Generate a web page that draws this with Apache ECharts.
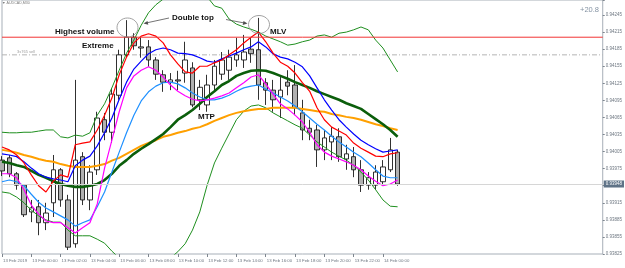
<!DOCTYPE html>
<html><head><meta charset="utf-8">
<script src="https://cdn.jsdelivr.net/npm/echarts@6/dist/echarts.min.js"></script>
<style>html,body{margin:0;padding:0;background:#fff}#c{width:625px;height:268px}</style>
</head><body><div id="c"></div>
<script>
// AUDCAD M30, bars from 12 Feb 22:00 to 14 Feb 01:00 (30 min each), then empty shift area
const tickIndex = [0,4,8,12,16,20,24,28,32,36,40,44,48,52];
const tickLabels = ['13 Feb 2019','13 Feb 00:00','13 Feb 02:00','13 Feb 04:00','13 Feb 06:00','13 Feb 08:00','13 Feb 10:00','13 Feb 12:00','13 Feb 14:00','13 Feb 16:00','13 Feb 18:00','13 Feb 20:00','13 Feb 22:00','14 Feb 00:00'];
const slotCount = 83;

const opens  = [0.93990,0.93994,0.93966,0.93946,0.93899,0.93908,0.93880,0.93915,0.93973,0.93920,0.93843,0.93996,0.93920,0.93973,0.94061,0.94039,0.94104,0.94175,0.94206,0.94187,0.94189,0.94166,0.94140,0.94127,0.94131,0.94143,0.94152,0.94096,0.94087,0.94122,0.94141,0.94148,0.94166,0.94166,0.94185,0.94184,0.94126,0.94113,0.94101,0.94127,0.94122,0.94073,0.94046,0.94043,0.94008,0.94022,0.94031,0.93992,0.93996,0.93973,0.93946,0.93946,0.93952,0.93973,0.94004];
const closes = [0.93971,0.93966,0.93946,0.93894,0.93906,0.93880,0.93897,0.93973,0.93920,0.93837,0.93990,0.93920,0.93969,0.94064,0.94039,0.94106,0.94175,0.94206,0.94191,0.94189,0.94166,0.94141,0.94127,0.94131,0.94129,0.94166,0.94087,0.94118,0.94122,0.94155,0.94166,0.94171,0.94175,0.94180,0.94177,0.94122,0.94113,0.94096,0.94113,0.94120,0.94082,0.94043,0.94039,0.94008,0.94029,0.94032,0.93996,0.94001,0.93973,0.93946,0.93959,0.93969,0.93978,0.94008,0.93948];
const highs  = [0.93997,0.93999,0.93969,0.93948,0.93920,0.93920,0.93915,0.93999,0.93976,0.93929,0.94131,0.94004,0.93981,0.94075,0.94073,0.94117,0.94184,0.94236,0.94213,0.94206,0.94201,0.94171,0.94148,0.94143,0.94147,0.94198,0.94162,0.94131,0.94140,0.94166,0.94180,0.94184,0.94205,0.94210,0.94205,0.94240,0.94134,0.94131,0.94136,0.94148,0.94157,0.94096,0.94061,0.94052,0.94043,0.94048,0.94046,0.94017,0.94013,0.93990,0.93969,0.93981,0.93990,0.94029,0.94008];
const lows   = [0.93962,0.93960,0.93938,0.93890,0.93881,0.93858,0.93867,0.93890,0.93908,0.93832,0.93836,0.93911,0.93902,0.93964,0.94025,0.94020,0.94096,0.94171,0.94184,0.94170,0.94154,0.94131,0.94110,0.94113,0.94113,0.94126,0.94083,0.94078,0.94075,0.94113,0.94131,0.94131,0.94154,0.94152,0.94161,0.94096,0.94087,0.94075,0.94064,0.94104,0.94069,0.94025,0.94025,0.93978,0.93990,0.93990,0.93987,0.93973,0.93960,0.93934,0.93938,0.93938,0.93945,0.93969,0.93945];

const redLine      = [0.94013,0.94008,0.93999,0.93985,0.93964,0.93945,0.93934,0.93953,0.93964,0.93960,0.94017,0.94020,0.94022,0.94043,0.94069,0.94099,0.94140,0.94171,0.94196,0.94208,0.94212,0.94208,0.94196,0.94175,0.94159,0.94145,0.94143,0.94155,0.94155,0.94161,0.94166,0.94175,0.94184,0.94196,0.94206,0.94215,0.94198,0.94178,0.94162,0.94155,0.94143,0.94126,0.94111,0.94082,0.94061,0.94048,0.94041,0.94034,0.94020,0.94011,0.94004,0.93997,0.93996,0.94001,0.94003];
const blueLine     = [0.94001,0.93999,0.93996,0.93987,0.93976,0.93966,0.93960,0.93957,0.93955,0.93952,0.93980,0.93990,0.93997,0.94015,0.94038,0.94064,0.94097,0.94127,0.94150,0.94164,0.94177,0.94184,0.94187,0.94184,0.94178,0.94177,0.94175,0.94170,0.94164,0.94162,0.94168,0.94173,0.94178,0.94184,0.94189,0.94198,0.94189,0.94177,0.94171,0.94168,0.94162,0.94154,0.94138,0.94117,0.94096,0.94078,0.94061,0.94048,0.94036,0.94025,0.94017,0.94010,0.94004,0.94006,0.94008];
const magentaLine  = [0.93966,0.93966,0.93959,0.93938,0.93911,0.93895,0.93883,0.93880,0.93880,0.93871,0.93862,0.93871,0.93880,0.93913,0.93976,0.94025,0.94075,0.94117,0.94138,0.94148,0.94154,0.94148,0.94136,0.94122,0.94111,0.94103,0.94097,0.94094,0.94096,0.94099,0.94103,0.94108,0.94117,0.94126,0.94136,0.94140,0.94124,0.94106,0.94089,0.94080,0.94069,0.94057,0.94039,0.94017,0.94004,0.93997,0.93992,0.93987,0.93981,0.93973,0.93962,0.93953,0.93945,0.93948,0.93955];
const lightBlueLine= [0.93952,0.93955,0.93952,0.93945,0.93930,0.93916,0.93906,0.93899,0.93892,0.93885,0.93874,0.93880,0.93885,0.93908,0.93934,0.93969,0.94004,0.94038,0.94069,0.94094,0.94110,0.94120,0.94126,0.94127,0.94124,0.94117,0.94108,0.94101,0.94096,0.94096,0.94099,0.94104,0.94111,0.94117,0.94120,0.94122,0.94115,0.94108,0.94101,0.94094,0.94085,0.94075,0.94064,0.94053,0.94043,0.94032,0.94022,0.94013,0.94004,0.93996,0.93985,0.93973,0.93962,0.93959,0.93959];
const darkGreenLine= [0.93987,0.93985,0.93981,0.93978,0.93971,0.93964,0.93959,0.93953,0.93948,0.93945,0.93943,0.93943,0.93945,0.93948,0.93955,0.93966,0.93980,0.93990,0.94001,0.94010,0.94018,0.94027,0.94036,0.94048,0.94061,0.94069,0.94078,0.94089,0.94101,0.94111,0.94122,0.94129,0.94138,0.94143,0.94147,0.94148,0.94147,0.94143,0.94138,0.94133,0.94127,0.94122,0.94117,0.94111,0.94106,0.94101,0.94096,0.94090,0.94085,0.94080,0.94071,0.94062,0.94053,0.94043,0.94031];
const orangeLine   = [0.94008,0.94006,0.94003,0.93999,0.93996,0.93992,0.93989,0.93987,0.93983,0.93980,0.93978,0.93978,0.93978,0.93980,0.93983,0.93989,0.93994,0.94001,0.94008,0.94015,0.94020,0.94025,0.94031,0.94034,0.94038,0.94041,0.94045,0.94048,0.94053,0.94059,0.94064,0.94069,0.94073,0.94076,0.94078,0.94080,0.94080,0.94082,0.94082,0.94082,0.94082,0.94080,0.94078,0.94076,0.94075,0.94071,0.94069,0.94066,0.94064,0.94061,0.94057,0.94053,0.94050,0.94046,0.94043];
const bbUpper      = [0.94039,0.94038,0.94038,0.94039,0.94039,0.94041,0.94043,0.94043,0.94031,0.94029,0.94034,0.94032,0.94038,0.94069,0.94089,0.94117,0.94148,0.94178,0.94201,0.94227,0.94249,0.94263,0.94273,0.94284,0.94293,0.94296,0.94293,0.94285,0.94277,0.94261,0.94257,0.94238,0.94229,0.94224,0.94220,0.94215,0.94208,0.94203,0.94198,0.94192,0.94194,0.94198,0.94201,0.94208,0.94210,0.94206,0.94213,0.94215,0.94219,0.94224,0.94219,0.94201,0.94187,0.94166,0.94145];
const bbLower      = [0.93934,0.93932,0.93925,0.93915,0.93902,0.93892,0.93885,0.93881,0.93881,0.93867,0.93857,0.93857,0.93857,0.93851,0.93844,0.93830,0.93818,0.93807,0.93800,0.93797,0.93797,0.93800,0.93807,0.93818,0.93829,0.93843,0.93867,0.93899,0.93946,0.93985,0.94011,0.94036,0.94061,0.94076,0.94085,0.94087,0.94082,0.94073,0.94066,0.94059,0.94052,0.94046,0.94034,0.94022,0.94013,0.94004,0.93997,0.93990,0.93981,0.93969,0.93955,0.93938,0.93920,0.93909,0.93908];

const resistanceLevel = 0.94206;
const sellOrderLevel = 0.94175;
const bidLevel = closes[closes.length - 1];

const yMin = 0.93825, yMax = 0.942714, yStep = 0.0003;

const cats = [];
for (let i = 0; i < slotCount; i++) cats.push(String(i));
const labelMap = {};
tickIndex.forEach((ix, j) => labelMap[ix] = tickLabels[j]);
const showTick = (index) => tickIndex.indexOf(index) >= 0;

const candleData = opens.map((o, i) => [o, closes[i], lows[i], highs[i]]);

const FONT = '"Liberation Sans", Arial, sans-serif';
const chart = echarts.init(document.getElementById('c'), null, {renderer: 'canvas'});

function lineSeries(data, color, width, z) {
  return {type: 'line', data: data, symbol: 'none', smooth: false, z: z || 3,
    lineStyle: {color: color, width: width}, itemStyle: {color: color}, silent: true, clip: true};
}

// a horizontal price level drawn across the whole chart width
function levelLine(level, color, type, z) {
  return {type: 'line', data: [[0, level], [slotCount - 1, level]], symbol: 'none', z: z, silent: true,
    lineStyle: {color: color, width: 1, type: type}, itemStyle: {color: color}};
}

chart.setOption({
  animation: false,
  textStyle: {fontFamily: FONT},
  grid: {left: 1.3, right: 20, top: 0, bottom: 14, show: true, borderColor: '#a7afb8', borderWidth: 1},
  xAxis: {
    type: 'category', data: cats, boundaryGap: false,
    axisLine: {show: false},
    axisTick: {show: true, interval: (i) => showTick(i), length: 3, lineStyle: {color: '#7d858e'}},
    axisLabel: {interval: (i) => showTick(i), formatter: (v, i) => labelMap[i] || '',
      fontSize: 4.3, color: '#6d7680', align: 'left', margin: 5, padding: [0, 0, 0, 1]},
    splitLine: {show: false}
  },
  yAxis: {
    type: 'value', position: 'right', min: yMin, max: yMax, interval: yStep,
    axisLine: {show: false},
    axisTick: {show: true, length: 2, lineStyle: {color: '#7d858e'}},
    splitLine: {show: false},
    axisLabel: {fontSize: 4.5, color: '#6d7680', margin: 3,
      formatter: (v) => {
        const n = (v - yMin) / yStep;
        return Math.abs(n - Math.round(n)) < 0.02 ? v.toFixed(5) : '';
      }}
  },
  series: [
    {
      type: 'line', data: [], symbol: 'none', z: 1, silent: true, itemStyle: {color: '#d6d6d6'},
      markLine: {
        silent: true, symbol: ['none', 'none'], animation: false, precision: 5,
        lineStyle: {color: '#d6d6d6', width: 1, type: 'solid'},
        label: {show: true, position: 'end', distance: 1, formatter: bidLevel.toFixed(5),
          backgroundColor: '#5f7387', color: '#ffffff', fontSize: 4.5, padding: [1, 2, 1, 2]},
        data: [{yAxis: bidLevel}]
      }
    },
    levelLine(sellOrderLevel, '#b4b4b4', [5, 2, 1, 2], 1),
    levelLine(resistanceLevel, '#f23333', 'solid', 4),
    {
      type: 'candlestick', data: candleData, barWidth: 5, z: 2, clip: true,
      itemStyle: {color: '#ffffff', color0: '#b0b0b0', borderColor: '#1a1a1a', borderColor0: '#1a1a1a', borderWidth: 0.9}
    },
    lineSeries(bbUpper, '#1f8f1f', 1),
    lineSeries(bbLower, '#1f8f1f', 1),
    lineSeries(orangeLine, '#ffa000', 2),
    lineSeries(darkGreenLine, '#0b5e0b', 2.6),
    lineSeries(lightBlueLine, '#1e90ff', 1.2),
    lineSeries(magentaLine, '#ff00ff', 1.2),
    lineSeries(blueLine, '#0000ff', 1.2),
    lineSeries(redLine, '#ff0000', 1.2)
  ],
  graphic: [
    {type: 'text', x: 2, y: 1, z: 100, style: {text: '\u25BC AUDCAD,M30', font: '3.6px ' + FONT, fill: '#7a7a7a'}},
    {type: 'text', x: 599, y: 6, z: 100, style: {text: '+20.8', font: '7.5px ' + FONT, fill: '#8593a3', align: 'right', textAlign: 'right'}},
    {type: 'text', x: 17, y: 49.5, z: 100, style: {text: '3s765 sell', font: '4px ' + FONT, fill: '#a0a0a0'}},
    {type: 'text', x: 55, y: 28, z: 100, style: {text: 'Highest volume', font: 'bold 8px ' + FONT, fill: '#111'}},
    {type: 'text', x: 82, y: 41.5, z: 100, style: {text: 'Extreme', font: 'bold 8px ' + FONT, fill: '#111'}},
    {type: 'text', x: 172, y: 13.5, z: 100, style: {text: 'Double top', font: 'bold 8px ' + FONT, fill: '#111'}},
    {type: 'text', x: 270, y: 27.5, z: 100, style: {text: 'MLV', font: 'bold 8px ' + FONT, fill: '#111'}},
    {type: 'text', x: 198, y: 112.5, z: 100, style: {text: 'MTP', font: 'bold 8px ' + FONT, fill: '#111'}},
    {type: 'ellipse', z: 100, shape: {cx: 127.5, cy: 27.5, rx: 10.5, ry: 9.5}, style: {fill: 'none', stroke: '#8a8a8a', lineWidth: 0.8}},
    {type: 'ellipse', z: 100, shape: {cx: 259, cy: 24.5, rx: 10.5, ry: 9}, style: {fill: 'none', stroke: '#8a8a8a', lineWidth: 0.8}},
    {type: 'polyline', z: 100, shape: {points: [[169, 18], [146, 23]]}, style: {stroke: '#505050', lineWidth: 0.8, fill: 'none'}},
    {type: 'polygon', z: 100, shape: {points: [[143.5, 23.5], [148.3, 24.8], [147.5, 20.9]]}, style: {fill: '#505050'}},
    {type: 'polyline', z: 100, shape: {points: [[226, 19.5], [245, 23.1]]}, style: {stroke: '#505050', lineWidth: 0.8, fill: 'none'}},
    {type: 'polygon', z: 100, shape: {points: [[247.5, 23.6], [242.7, 24.9], [243.5, 21]]}, style: {fill: '#505050'}}
  ]
});
</script>
</body></html>
